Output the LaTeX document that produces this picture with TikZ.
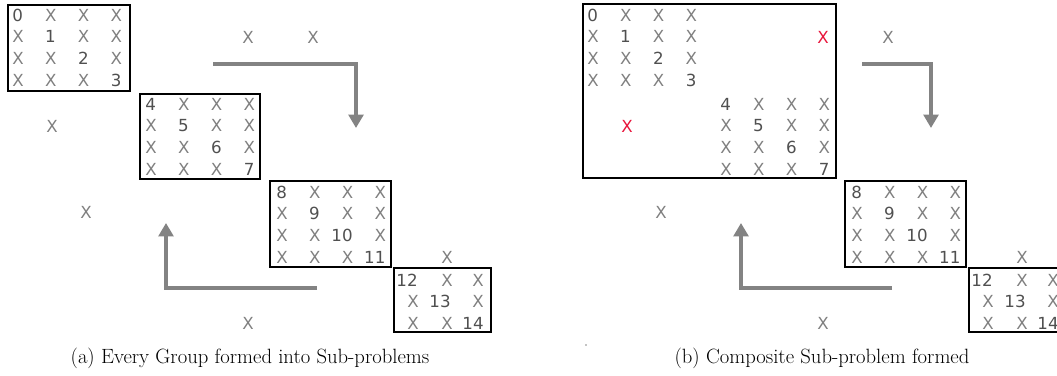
\documentclass[tikz,border=0pt]{standalone}
\usepackage{fontspec}
\newfontfamily\gridfont{DejaVu Sans}
\usetikzlibrary{arrows.meta}

\definecolor{crossgray}{HTML}{808080}
\definecolor{numgray}{HTML}{505050}
\definecolor{arrowgray}{HTML}{838383}
\definecolor{markred}{HTML}{E8163C}

\begin{document}
\begin{tikzpicture}[x=0.75pt, y=-0.75pt,
    cross/.style={inner sep=0pt, text=crossgray, font=\gridfont\fontsize{12.5}{14}\selectfont},
    num/.style={inner sep=0pt, text=numgray, font=\gridfont\fontsize{12.5}{14}\selectfont},
    redcross/.style={cross, text=markred},
    group/.style={draw=black, line width=1.2pt},
    flow/.style={draw=arrowgray, line width=3pt, -{Triangle[length=10pt, width=11pt]}},
    caption/.style={font=\fontsize{15.5}{18}\selectfont}]
    \useasboundingbox (0,0) rectangle (1057,375);
    \clip (0,0) rectangle (1057,375);

    % Groups, loose crosses and lower arrow of both panels
    \foreach \p/\dx in {a/0, b/575} {
      \begin{scope}[shift={(\dx,0)}]
        % diagonal groups 0-3, 4-7, 8-11
        \foreach \bx/\by/\n in {18/15/0, 151/104/4, 282/192/8} {
          \foreach \i in {0,...,3} {
            \foreach \j in {0,...,3} {
              \pgfmathtruncatemacro\k{\n+\i}
              \ifnum\i=\j
                \node[num, anchor=east] (\p-n\k) at (\bx+\j*32.8+5.3, \by+\i*21.8) {\k};
              \else
                \node[cross] (\p-x\k-\j) at (\bx+\j*32.8, \by+\i*21.8) {X};
              \fi
            }
          }
        }

        % group 12-14
        \node[num] (\p-n12) at (407,280) {12};
        \node[cross] (\p-x12-1) at (447,280) {X};
        \node[cross] (\p-x12-2) at (478,280) {X};
        \node[cross] (\p-x13-0) at (413,301) {X};
        \node[num] (\p-n13) at (440,301) {13};
        \node[cross] (\p-x13-2) at (478,301) {X};
        \node[cross] (\p-x14-0) at (413,323) {X};
        \node[cross] (\p-x14-1) at (447,323) {X};
        \node[num] (\p-n14) at (473,323) {14};

        % loose crosses
        \node[cross] (\p-l1) at (313,37) {X};
        \node[cross] (\p-l2) at (86,212) {X};
        \node[cross] (\p-l3) at (248,323) {X};
        \node[cross] (\p-l4) at (447,257) {X};

        % sub-problem boxes
        \draw[group] (270,181) rectangle (391,267);
        \draw[group] (394,268) rectangle (491,332);

        % lower arrow
        \coordinate (\p-r2s) at (317,288);
        \coordinate (\p-r2e) at (166,223);
        \draw[flow] (\p-r2s) -| (\p-r2e);
      \end{scope}
    }

    % Panel (a)
    \draw[group] (8,5) rectangle (130,91);
    \draw[group] (140,94) rectangle (260,179);
    \node[cross] (a-l5) at (248,37) {X};
    \node[cross] (a-l6) at (52,126) {X};
    \coordinate (a-r1s) at (213,64);
    \coordinate (a-r1e) at (356,128);
    \draw[flow] (a-r1s) -| (a-r1e);

    % Panel (b)
    \draw[group] (583,4) rectangle (836,178);
    \node[redcross] (b-l5) at (823,37) {X};
    \node[redcross] (b-l6) at (627,126) {X};
    \coordinate (b-r1s) at (862,64);
    \coordinate (b-r1e) at (931,128);
    \draw[flow] (b-r1s) -| (b-r1e);
    \fill (586,345) circle (0.6);

    % Captions
    \node[caption] (cap-a) at (250,358) {(a) Every Group formed into Sub-problems};
    \node[caption] (cap-b) at (822,358) {(b) Composite Sub-problem formed};
\end{tikzpicture}
\end{document}
